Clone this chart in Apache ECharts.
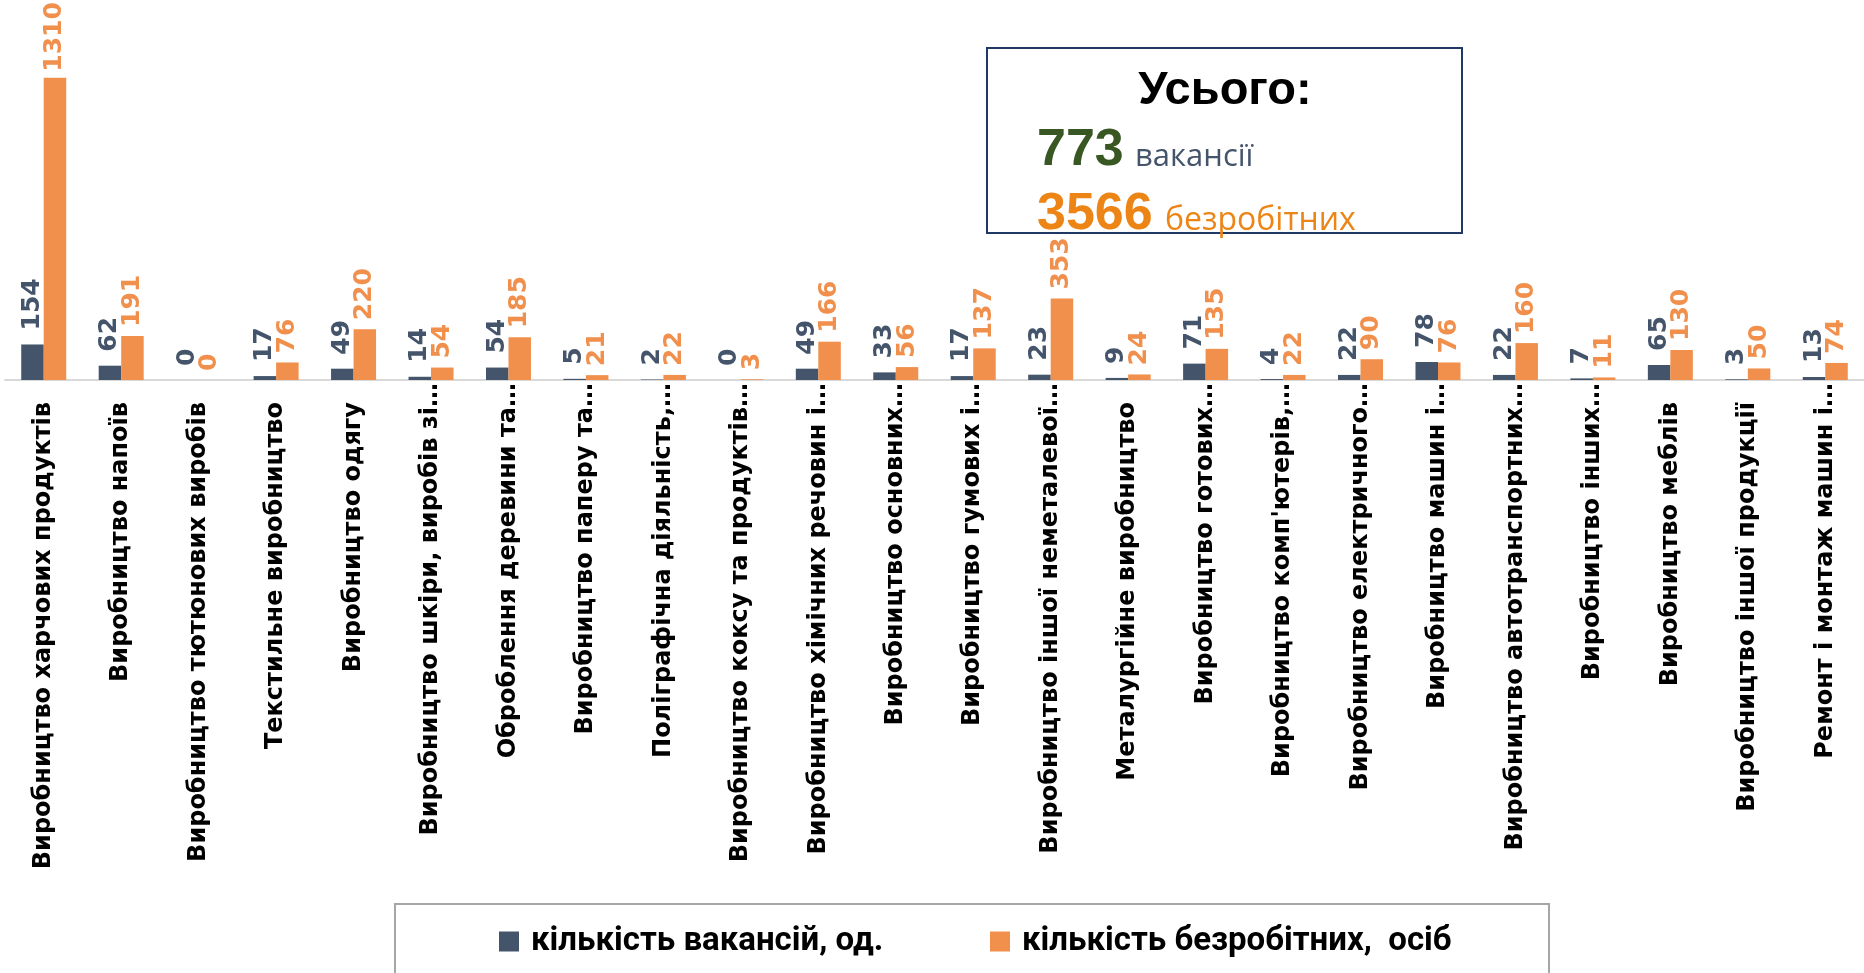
<!DOCTYPE html>
<html><head><meta charset="utf-8">
<script src="https://cdn.jsdelivr.net/npm/echarts@6/dist/echarts.min.js"></script>
<style>html,body{margin:0;padding:0;background:#fff;}#c{width:1864px;height:973px;}</style>
</head><body><div id="c"></div>
<script>
const categories = [
  'Виробництво харчових продуктів',
  'Виробництво напоїв',
  'Виробництво тютюнових виробів',
  'Текстильне виробництво',
  'Виробництво одягу',
  'Виробництво шкіри, виробів зі…',
  'Оброблення деревини та…',
  'Виробництво паперу та…',
  'Поліграфічна діяльність,…',
  'Виробництво коксу та продуктів…',
  'Виробництво хімічних речовин і…',
  'Виробництво основних…',
  'Виробництво гумових і…',
  'Виробництво іншої неметалевої…',
  'Металургійне виробництво',
  'Виробництво готових…',
  "Виробництво комп'ютерів,…",
  'Виробництво електричного…',
  'Виробництво машин і…',
  'Виробництво автотранспортних…',
  'Виробництво інших…',
  'Виробництво меблів',
  'Виробництво іншої продукції',
  'Ремонт і монтаж машин і…'
];
const vacancies = [154, 62, 0, 17, 49, 14, 54, 5, 2, 0, 49, 33, 17, 23, 9, 71, 4, 22, 78, 22, 7, 65, 3, 13];
const unemployed = [1310, 191, 0, 76, 220, 54, 185, 21, 22, 3, 166, 56, 137, 353, 24, 135, 22, 90, 76, 160, 11, 130, 50, 74];
const seriesNames = ['кількість вакансій, од.', 'кількість безробітних,  осіб'];
const totalTitle = 'Усього:';
const totalVacancies = '773';
const totalVacanciesText = 'вакансії';
const totalUnemployed = '3566';
const totalUnemployedText = 'безробітних';

const DARK = '#44546A', ORANGE = '#F0904C';
const LF = '"DejaVu Sans", sans-serif';
const chart = echarts.init(document.getElementById('c'), null, {renderer: 'canvas'});
const maxU = Math.max(...unemployed);
const isTrunc = v => v.endsWith('…');
const axisLabelStyle = {interval: 0, rotate: 90, fontFamily: LF, fontWeight: 'bold', fontSize: 24, color: '#000'};

const option = {
  animation: false,
  backgroundColor: '#fff',
  grid: {left: 5, right: -9, top: 57, bottom: 593, containLabel: false},
  xAxis: [
    {
      type: 'category', data: categories, position: 'bottom',
      axisLine: {lineStyle: {color: '#D9D9D9', width: 2}},
      axisTick: {show: false},
      axisLabel: Object.assign({margin: 22, formatter: v => isTrunc(v) ? '' : v}, axisLabelStyle)
    },
    {
      type: 'category', data: categories, position: 'bottom', offset: 0,
      axisLine: {show: false}, axisTick: {show: false}, splitLine: {show: false},
      axisLabel: Object.assign({margin: 3, formatter: v => isTrunc(v) ? v : ''}, axisLabelStyle)
    }
  ],
  yAxis: {type: 'value', min: 0, max: 1400, show: false, splitLine: {show: false}},
  legend: [
    {data: [seriesNames[0]], left: 499, top: 925, padding: 0, icon: 'rect', itemWidth: 20, itemHeight: 20,
     textStyle: {fontFamily: 'Roboto', fontWeight: 'bold', fontSize: 33, color: '#000', padding: [0, 0, 0, 7]}},
    {data: [seriesNames[1]], left: 990, top: 925, padding: 0, icon: 'rect', itemWidth: 20, itemHeight: 20,
     textStyle: {fontFamily: 'Roboto', fontWeight: 'bold', fontSize: 33, color: '#000', padding: [0, 0, 0, 7]}}
  ],
  series: [
    {
      name: seriesNames[0], type: 'bar', xAxisIndex: 0, data: vacancies, barWidth: 22.5, barGap: '0%',
      itemStyle: {color: DARK},
      label: {show: true, position: 'top', rotate: 90, align: 'left', verticalAlign: 'middle', distance: 14,
              color: DARK, fontFamily: LF, fontWeight: 'bold', fontSize: 25}
    },
    {
      name: seriesNames[1], type: 'bar', xAxisIndex: 0, barWidth: 22.5, barGap: '0%',
      data: unemployed.map(v => v === maxU ? {value: v, label: {distance: 6}} : v),
      itemStyle: {color: ORANGE},
      label: {show: true, position: 'top', rotate: 90, align: 'left', verticalAlign: 'middle', distance: 9,
              color: ORANGE, fontFamily: LF, fontWeight: 'bold', fontSize: 25}
    }
  ],
  graphic: [
    {type: 'rect', z: 0, shape: {x: 395, y: 904, width: 1154, height: 120},
     style: {fill: 'none', stroke: '#A6A6A6', lineWidth: 2}},
    {type: 'rect', z: 1, shape: {x: 987, y: 48, width: 475, height: 185},
     style: {fill: '#fff', stroke: '#1F3864', lineWidth: 2}},
    {type: 'text', z: 2, x: 1225, y: 91,
     style: {text: totalTitle, fill: '#000', fontFamily: '"Liberation Sans", Arial, sans-serif', fontWeight: 'bold', fontSize: 47, align: 'center', verticalAlign: 'middle'}},
    {type: 'text', z: 2, x: 1037, y: 151,
     style: {text: totalVacancies, fill: '#385723', fontFamily: '"Liberation Sans", Arial, sans-serif', fontWeight: 'bold', fontSize: 52, align: 'left', verticalAlign: 'middle'}},
    {type: 'text', z: 2, x: 1135, y: 157,
     style: {text: totalVacanciesText, fill: DARK, fontFamily: '"Open Sans", sans-serif', fontSize: 31, align: 'left', verticalAlign: 'middle'}},
    {type: 'text', z: 2, x: 1037, y: 215,
     style: {text: totalUnemployed, fill: '#EC8516', fontFamily: '"Liberation Sans", Arial, sans-serif', fontWeight: 'bold', fontSize: 52, align: 'left', verticalAlign: 'middle'}},
    {type: 'text', z: 2, x: 1165, y: 221,
     style: {text: totalUnemployedText, fill: '#EC8516', fontFamily: '"Open Sans", sans-serif', fontSize: 32, align: 'left', verticalAlign: 'middle'}}
  ]
};
chart.setOption(option);
</script></body></html>
